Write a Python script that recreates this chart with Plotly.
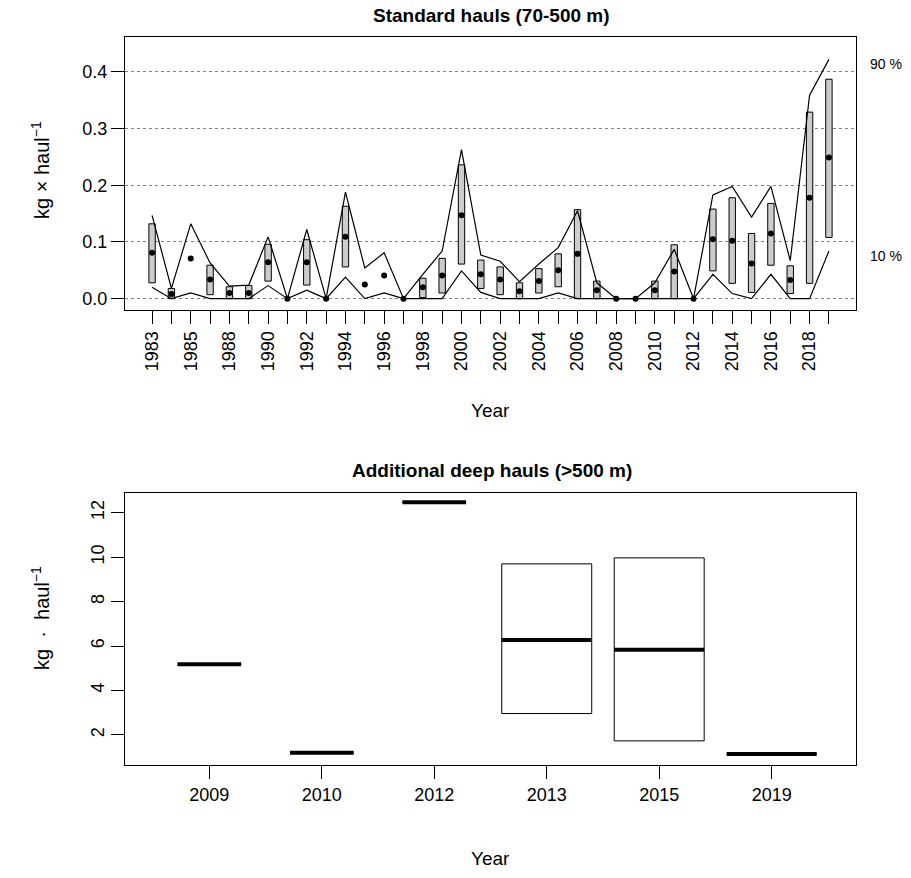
import plotly.graph_objects as go

# ---------------- data: standard hauls ----------------
years = [1983, 1984, 1985, 1986, 1988, 1989, 1990, 1991, 1992, 1993, 1994, 1995,
         1996, 1997, 1998, 1999, 2000, 2001, 2002, 2003, 2004, 2005, 2006, 2007,
         2008, 2009, 2010, 2011, 2012, 2013, 2014, 2015, 2016, 2017, 2018, 2019]
median = [0.081, 0.008, 0.071, 0.034, 0.010, 0.010, 0.064, 0.0, 0.064, 0.0, 0.109, 0.025,
          0.041, 0.0, 0.020, 0.041, 0.147, 0.043, 0.034, 0.013, 0.031, 0.050, 0.079, 0.015,
          0.0, 0.0, 0.015, 0.048, 0.0, 0.105, 0.102, 0.062, 0.115, 0.033, 0.178, 0.249]
box_low = [0.028, 0.0, None, 0.007, 0.0, 0.0, 0.031, None, 0.024, None, 0.056, None,
           None, None, 0.002, 0.010, 0.061, 0.018, 0.007, 0.0, 0.010, 0.021, 0.0, 0.0,
           None, None, 0.0, 0.0, None, 0.049, 0.027, 0.011, 0.059, 0.009, 0.027, 0.108]
box_high = [0.132, 0.018, None, 0.059, 0.021, 0.023, 0.096, None, 0.104, None, 0.163, None,
            None, None, 0.036, 0.071, 0.236, 0.068, 0.056, 0.028, 0.053, 0.079, 0.157, 0.031,
            None, None, 0.031, 0.095, None, 0.158, 0.178, 0.115, 0.168, 0.058, 0.329, 0.387]
p90 = [0.147, 0.018, 0.132, 0.063, 0.022, 0.024, 0.109, 0.0, 0.122, 0.0, 0.188, 0.054,
       0.081, 0.0, 0.043, 0.084, 0.263, 0.077, 0.066, 0.030, 0.061, 0.090, 0.155, 0.028,
       0.0, 0.0, 0.028, 0.087, 0.0, 0.183, 0.198, 0.144, 0.198, 0.067, 0.359, 0.422]
p10 = [0.020, 0.0, 0.010, 0.0, 0.0, 0.0, 0.023, 0.0, 0.015, 0.0, 0.038, 0.0,
       0.010, 0.0, 0.0, 0.0, 0.049, 0.011, 0.0, 0.0, 0.0, 0.010, 0.0, 0.0,
       0.0, 0.0, 0.0, 0.0, 0.0, 0.043, 0.009, 0.0, 0.043, 0.0, 0.0, 0.084]
y_ticks_top = [0.0, 0.1, 0.2, 0.3, 0.4]

# ---------------- data: deep hauls ----------------
deep_years = ["2009", "2010", "2012", "2013", "2015", "2019"]
deep_q1 = [5.18, 1.20, 12.48, 2.96, 1.73, 1.14]
deep_med = [5.18, 1.20, 12.48, 6.27, 5.83, 1.14]
deep_q3 = [5.18, 1.20, 12.48, 9.70, 9.97, 1.14]
deep_n = [1, 1, 1, 2, 2, 2]
y_ticks_bottom = [2, 4, 6, 8, 10, 12]

W, H = 911, 878
L, R = 125, 911 - 856
PW = W - L - R
FONT = "Liberation Sans, Arial, sans-serif"
TICK = 18


def px(x):  # page x pixel -> paper fraction
    return (x - L) / PW


def py(y):  # page y pixel -> paper fraction
    return 1 - y / H


idx = list(range(len(years)))
major_idx = idx[::2]
major_text = [str(years[i]) for i in major_idx]

fig = go.Figure()

# boxes (top)
bx, bbase, bh = [], [], []
for i, lo, hi in zip(idx, box_low, box_high):
    if lo is not None and hi is not None:
        bx.append(i)
        bbase.append(lo)
        bh.append(hi - lo)
fig.add_trace(go.Bar(x=bx, y=bh, base=bbase, width=0.33, xaxis="x", yaxis="y",
                     marker=dict(color="#cccccc", line=dict(color="black", width=1)),
                     showlegend=False, hoverinfo="skip"))
fig.add_trace(go.Scatter(x=idx, y=p90, mode="lines", xaxis="x", yaxis="y",
                         line=dict(color="black", width=1.2), showlegend=False))
fig.add_trace(go.Scatter(x=idx, y=p10, mode="lines", xaxis="x", yaxis="y",
                         line=dict(color="black", width=1.2), showlegend=False))
fig.add_trace(go.Scatter(x=idx, y=median, mode="markers", xaxis="x", yaxis="y",
                         marker=dict(color="black", size=6), showlegend=False))

# bottom boxplot
dpos = list(range(1, len(deep_years) + 1))
nmax = max(deep_n)
widths = [0.8 * (n / nmax) ** 0.5 for n in deep_n]
fig.add_trace(go.Bar(x=dpos, y=[q3 - q1 for q1, q3 in zip(deep_q1, deep_q3)], base=deep_q1,
                     width=widths, xaxis="x2", yaxis="y2",
                     marker=dict(color="white", line=dict(color="black", width=1)),
                     showlegend=False, hoverinfo="skip"))
mx, my = [], []
for p, m, w in zip(dpos, deep_med, widths):
    mx += [p - w / 2, p + w / 2, None]
    my += [m, m, None]
fig.add_trace(go.Scatter(x=mx, y=my, mode="lines", xaxis="x2", yaxis="y2",
                         line=dict(color="black", width=4), showlegend=False))

axis_common = dict(showline=True, linecolor="black", linewidth=1, mirror=True,
                   ticks="outside", ticklen=13, tickcolor="black", tickwidth=1,
                   zeroline=False, tickfont=dict(family=FONT, size=TICK, color="black"))

fig.update_layout(
    width=W, height=H,
    margin=dict(l=L, r=R, t=0, b=0),
    paper_bgcolor="white", plot_bgcolor="white",
    font=dict(family=FONT, color="black"),
    barmode="overlay",
    showlegend=False,
    xaxis=dict(domain=[0, 1], range=[-1.4, 36.4], tickmode="array", tickvals=major_idx,
               ticktext=major_text, tickangle=-90, showgrid=False, anchor="y",
               minor=dict(tickmode="array", tickvals=idx, ticks="outside", ticklen=13,
                          tickcolor="black", tickwidth=1, showgrid=False),
               **axis_common),
    yaxis=dict(domain=[py(310), py(37)], range=[-0.02, 0.4615], tickmode="array",
               tickvals=y_ticks_top, ticktext=[f"{v:.1f}" for v in y_ticks_top],
               showgrid=True, gridcolor="#808080", gridwidth=1, griddash="dot",
               anchor="x", **axis_common),
    xaxis2=dict(domain=[0, 1], range=[0.25, 6.75], tickmode="array", tickvals=dpos,
                ticktext=deep_years, showgrid=False, anchor="y2", **axis_common),
    yaxis2=dict(domain=[py(765), py(492.7)], range=[0.643, 12.905], tickmode="array",
                tickvals=y_ticks_bottom, ticktext=[str(v) for v in y_ticks_bottom],
                tickangle=-90, showgrid=False, anchor="x2", **axis_common),
)

ann = [
    dict(text="<b>Standard hauls (70-500 m)</b>", x=px(492), y=py(16), size=19),
    dict(text="<b>Additional deep hauls (>500 m)</b>", x=px(492), y=py(471), size=19),
    dict(text="Year", x=px(490), y=py(410), size=19),
    dict(text="Year", x=px(490), y=py(858), size=19),
    dict(text="kg × haul<sup>−1</sup>", x=px(40), y=py(170), size=20, angle=-90),
    dict(text="kg  ·  haul<sup>−1</sup>", x=px(40), y=py(618), size=20, angle=-90),
]
for a in ann:
    fig.add_annotation(text=a["text"], x=a["x"], y=a["y"], xref="paper", yref="paper",
                       showarrow=False, textangle=a.get("angle", 0),
                       xanchor="center", yanchor="middle",
                       font=dict(family=FONT, size=a["size"], color="black"))
for txt, yy in [("90 %", 64), ("10 %", 256)]:
    fig.add_annotation(text=txt, x=px(868), y=py(yy), xref="paper", yref="paper",
                       showarrow=False, xanchor="left", yanchor="middle",
                       font=dict(family=FONT, size=14, color="black"))

fig.write_html("out.html", config={"displayModeBar": False},
               post_script="document.body.style.margin='0px';")
